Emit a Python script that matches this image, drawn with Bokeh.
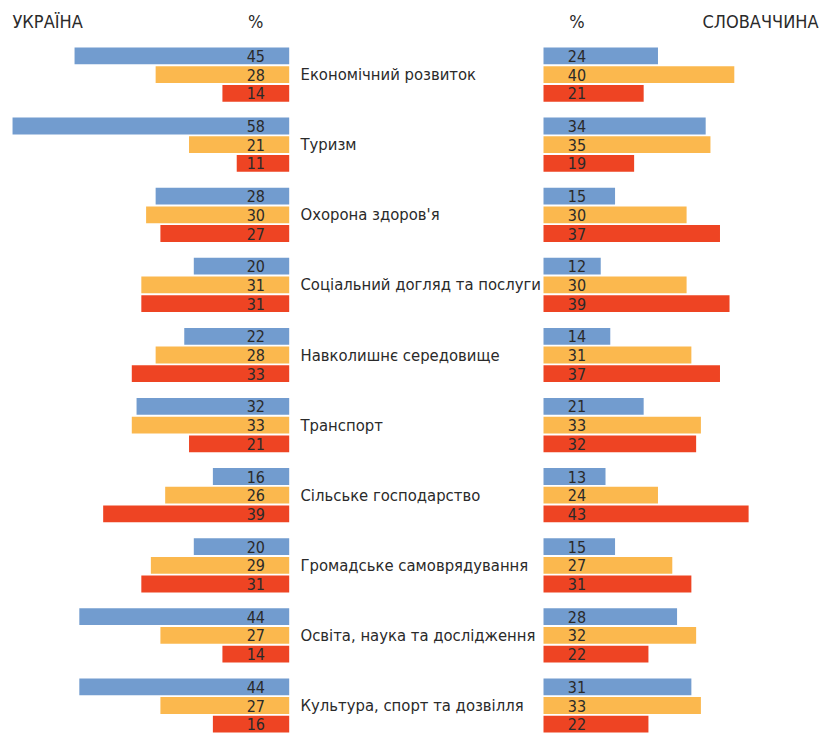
from bokeh.plotting import figure
from bokeh.models import ColumnDataSource, Range1d
from bokeh.core.properties import value
from bokeh.embed import file_html
from bokeh.resources import INLINE

# --- data -------------------------------------------------------------
categories = [
    "Економічний розвиток",
    "Туризм",
    "Охорона здоров'я",
    "Соціальний догляд та послуги",
    "Навколишнє середовище",
    "Транспорт",
    "Сільське господарство",
    "Громадське самоврядування",
    "Освіта, наука та дослідження",
    "Культура, спорт та дозвілля",
]

ukraine_blue = [45, 58, 28, 20, 22, 32, 16, 20, 44, 44]
ukraine_orange = [28, 21, 30, 31, 28, 33, 26, 29, 27, 27]
ukraine_red = [14, 11, 27, 31, 33, 21, 39, 31, 14, 16]

slovakia_blue = [24, 34, 15, 12, 14, 21, 13, 15, 28, 31]
slovakia_orange = [40, 35, 30, 30, 31, 33, 24, 27, 32, 33]
slovakia_red = [21, 19, 37, 39, 37, 32, 43, 31, 22, 22]

header_left = "УКРАЇНА"
header_right = "СЛОВАЧЧИНА"
unit_label = "%"

series_colors = ["#729ccf", "#fbb84e", "#ee4423"]

# --- layout constants -------------------------------------------------
W, H = 823, 733
PX_PER_PCT = 4.77          # horizontal scale
ROW_PX = 18.7              # one bar slot, vertical
GROUP_STEP = 70.1 / ROW_PX # slot units between category groups
BAR_H = 16.8 / ROW_PX
LEFT_ZERO_PX = 288.7       # baseline of the left panel
RIGHT_ZERO = (543.0 - LEFT_ZERO_PX) / PX_PER_PCT  # baseline of right panel
TOP_PAD = 55.4 / ROW_PX    # from top edge to first bar centre
NUM_OFFSET = 7.0           # number column offset from each baseline
LABEL_X = (300.0 - LEFT_ZERO_PX) / PX_PER_PCT

FONT = value("'Liberation Sans Narrow', 'DejaVu Sans Condensed', 'Roboto', sans-serif")
TEXT_COLOR = "#2a2a2a"

p = figure(
    width=W, height=H,
    x_range=Range1d(-LEFT_ZERO_PX / PX_PER_PCT, (W - LEFT_ZERO_PX) / PX_PER_PCT),
    y_range=Range1d(TOP_PAD - H / ROW_PX, TOP_PAD),
    output_backend="svg", toolbar_location=None,
    min_border=0, min_border_left=0, min_border_right=0,
    min_border_top=0, min_border_bottom=0,
)
p.axis.visible = False
p.grid.visible = False
p.outline_line_color = None
p.background_fill_color = "white"
p.border_fill_color = "white"

left_series = [ukraine_blue, ukraine_orange, ukraine_red]
right_series = [slovakia_blue, slovakia_orange, slovakia_red]

for s, (lv, rv, color) in enumerate(zip(left_series, right_series, series_colors)):
    ys = [-(g * GROUP_STEP + s) for g in range(len(categories))]
    src = ColumnDataSource(dict(
        y=ys,
        lv=[-v for v in lv],
        rv=[RIGHT_ZERO + v for v in rv],
        ltxt=[str(v) for v in lv],
        rtxt=[str(v) for v in rv],
        lnum=[-NUM_OFFSET] * len(ys),
        rnum=[RIGHT_ZERO + NUM_OFFSET] * len(ys),
        zero=[0] * len(ys),
        rzero=[RIGHT_ZERO] * len(ys),
    ))
    p.hbar(y="y", left="lv", right="zero", height=BAR_H, color=color,
           line_color=None, source=src)
    p.hbar(y="y", left="rzero", right="rv", height=BAR_H, color=color,
           line_color=None, source=src)
    p.text(x="lnum", y="y", text="ltxt", source=src, text_align="center",
           text_baseline="middle", text_font=FONT, text_font_size="16px",
           text_color=TEXT_COLOR)
    p.text(x="rnum", y="y", text="rtxt", source=src, text_align="center",
           text_baseline="middle", text_font=FONT, text_font_size="16px",
           text_color=TEXT_COLOR)

# category names between the two panels, aligned with the middle bar
cat_src = ColumnDataSource(dict(
    x=[LABEL_X] * len(categories),
    y=[-(g * GROUP_STEP + 1) for g in range(len(categories))],
    t=categories,
))
p.text(x="x", y="y", text="t", source=cat_src, text_align="left",
       text_baseline="middle", text_font=FONT, text_font_size="16.5px",
       text_color=TEXT_COLOR)

# headers
HEAD_Y = TOP_PAD - 21.0 / ROW_PX
p.text(x=[(12.0 - LEFT_ZERO_PX) / PX_PER_PCT], y=[HEAD_Y], text=[header_left],
       text_align="left", text_baseline="middle", text_font=FONT,
       text_font_size="18px", text_color=TEXT_COLOR)
p.text(x=[-NUM_OFFSET, RIGHT_ZERO + NUM_OFFSET], y=[HEAD_Y, HEAD_Y],
       text=[unit_label, unit_label], text_align="center",
       text_baseline="middle", text_font=FONT, text_font_size="18px",
       text_color=TEXT_COLOR)
p.text(x=[(818.0 - LEFT_ZERO_PX) / PX_PER_PCT], y=[HEAD_Y], text=[header_right],
       text_align="right", text_baseline="middle", text_font=FONT,
       text_font_size="18px", text_color=TEXT_COLOR)

open("out.html", "w").write(file_html(p, INLINE))
